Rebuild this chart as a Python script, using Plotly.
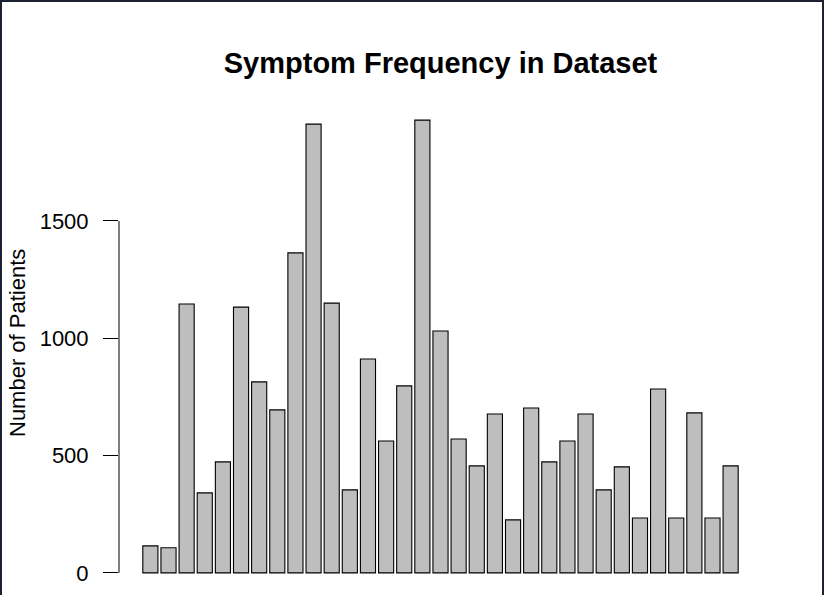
import plotly.graph_objects as go

# Symptom counts (33 symptoms, left to right)
symptoms = [f"S{i}" for i in range(1, 34)]
patients = [115, 107, 1146, 341, 473, 1133, 814, 695, 1364, 1913, 1150,
            354, 912, 562, 797, 1930, 1031, 571, 456, 677, 226, 703, 473,
            562, 677, 354, 452, 234, 784, 234, 682, 234, 456]
y_ticks = [0, 500, 1000, 1500]

W, H = 824, 595
ML, MR, MT, MB = 119, 62, 102, 4
pw, ph = W - ML - MR, H - MT - MB

def px_x(p):
    return (p - ML) / pw

def px_y(p):
    return (H - MB - p) / ph

# R barplot style limits: width 1, space 0.2, 4% padding around the data
ymax = max(patients)
y_rng = [-0.04 * ymax, 1.04 * ymax]
n = len(symptoms)
left, right = 0.2, 0.2 + 1.2 * (n - 1) + 1
pad = 0.04 * (right - left)
x_rng = [(left - pad - 0.7) / 1.2, (right + pad - 0.7) / 1.2]

fig = go.Figure(go.Bar(
    x=symptoms, y=patients,
    marker=dict(color="#bebebe", line=dict(color="black", width=1.1)),
))

font = "Liberation Sans, Arial, sans-serif"

fig.update_layout(
    width=W, height=H,
    margin=dict(l=ML, r=MR, t=MT, b=MB),
    paper_bgcolor="white", plot_bgcolor="white",
    bargap=1 - 1 / 1.2,
    showlegend=False,
    font=dict(family=font, color="black"),
    title=dict(text="<b>Symptom Frequency in Dataset</b>", x=0.5, xref="paper",
               xanchor="center", y=1 - 63 / H, yref="container", yanchor="middle",
               font=dict(size=29, family=font, color="black")),
    xaxis=dict(range=x_rng, showticklabels=False, showgrid=False, zeroline=False,
               showline=False, ticks=""),
    yaxis=dict(range=y_rng, tickvals=y_ticks, ticks="outside", ticklen=15,
               tickwidth=1, tickcolor="black", showgrid=False, zeroline=False,
               showline=False, ticklabelstandoff=10,
               tickfont=dict(size=22, family=font, color="black")),
)

# y axis line only spans the tick range, like base R
fig.add_shape(type="line", xref="paper", yref="y", x0=0, x1=0,
              y0=y_ticks[0], y1=y_ticks[-1], line=dict(color="black", width=1))

fig.add_annotation(text="Number of Patients", textangle=-90, xref="paper", yref="paper",
                   x=px_x(17), y=px_y(343), xanchor="center", yanchor="middle",
                   showarrow=False, font=dict(size=22, family=font, color="black"))

# dark window frame at top, left and right edges
frame = "#1d2030"
fig.add_shape(type="rect", xref="paper", yref="paper", x0=px_x(0), x1=px_x(W),
              y0=px_y(2), y1=px_y(0), fillcolor=frame, line=dict(width=0), layer="above")
fig.add_shape(type="rect", xref="paper", yref="paper", x0=px_x(0), x1=px_x(2),
              y0=px_y(H), y1=px_y(0), fillcolor=frame, line=dict(width=0), layer="above")
fig.add_shape(type="rect", xref="paper", yref="paper", x0=px_x(822), x1=px_x(W),
              y0=px_y(H), y1=px_y(0), fillcolor=frame, line=dict(width=0), layer="above")

fig.write_html("out.html", config={"displayModeBar": False},
               post_script="document.body.style.margin='0';document.body.style.overflow='hidden';")
